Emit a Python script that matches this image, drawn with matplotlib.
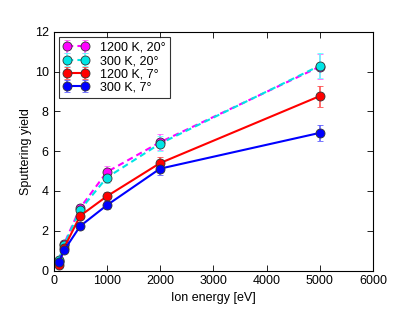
import matplotlib
matplotlib.use("Agg")
import matplotlib.pyplot as plt

plt.rcParams['font.family'] = ['Liberation Sans', 'DejaVu Sans']

energy = [100, 200, 500, 1000, 2000, 5000]
y_1200_20 = [0.50, 1.35, 3.15, 4.95, 6.45, 10.25]
y_300_20 = [0.55, 1.30, 3.05, 4.67, 6.38, 10.30]
y_1200_7 = [0.28, 1.15, 2.75, 3.73, 5.40, 8.77]
y_300_7 = [0.42, 1.02, 2.23, 3.28, 5.12, 6.92]
e_1200_20 = [0.03, 0.08, 0.19, 0.30, 0.39, 0.62]
e_300_20 = [0.03, 0.08, 0.18, 0.28, 0.38, 0.62]
e_1200_7 = [0.02, 0.07, 0.17, 0.22, 0.32, 0.53]
e_300_7 = [0.03, 0.06, 0.13, 0.20, 0.31, 0.42]
labels = ["1200 K, 20°", "300 K, 20°", "1200 K, 7°", "300 K, 7°"]

fig = plt.figure(figsize=(4.15, 3.12), dpi=100)
ax = fig.add_axes([0.129, 0.133, 0.770, 0.765])

series = [
    (y_1200_20, e_1200_20, '#ff00ff', '#ff66ff', (0, (3, 2))),
    (y_300_20, e_300_20, '#00e5e5', '#66ffff', (0, (3, 2))),
    (y_1200_7, e_1200_7, '#ff0000', '#ff5050', '-'),
    (y_300_7, e_300_7, '#0000ff', '#6060ff', '-'),
]
for (y, e, c, ec, ls), lab in zip(series, labels):
    ax.errorbar(energy, y, yerr=e, color=c, ecolor=ec, linestyle=ls, lw=1.5,
                marker='o', ms=6.5, mfc=c, mec='#333333', mew=0.6,
                elinewidth=1.2, capsize=2.5, capthick=1.0, label=lab)

ax.set_xlim(0, 6000)
ax.set_ylim(0, 12)
ax.set_xticks(range(0, 6001, 1000))
ax.set_yticks(range(0, 13, 2))
ax.tick_params(direction='in', top=True, right=True, labelsize=9, length=4, width=0.6)
for s in ax.spines.values():
    s.set_linewidth(0.8)
ax.set_xlabel("Ion energy [eV]", fontsize=9, labelpad=3)
ax.set_ylabel("Sputtering yield", fontsize=9, labelpad=2)

leg = ax.legend(loc='upper left', numpoints=2, fontsize=9, frameon=True, fancybox=False,
                edgecolor='black', handlelength=2.0, handletextpad=0.9,
                borderpad=0.35, labelspacing=0.1, borderaxespad=0.45)
leg.get_frame().set_linewidth(0.8)

fig.savefig("out.png", dpi=100)
